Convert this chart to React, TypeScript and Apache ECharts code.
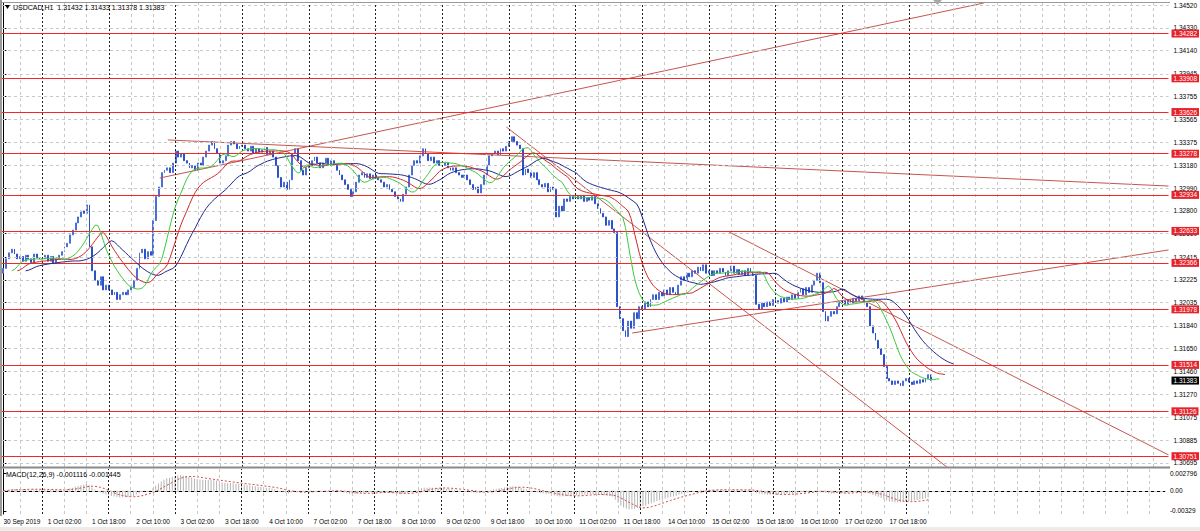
import { useEffect, useRef } from 'react';
import * as echarts from 'echarts';

// ---- data (hourly closes, H1 bars) ----
const dayNames = ['30 Sep', '1 Oct', '2 Oct', '3 Oct', '4 Oct', '7 Oct', '8 Oct', '9 Oct', '10 Oct', '11 Oct', '14 Oct', '15 Oct', '16 Oct', '17 Oct', '18 Oct'];
const firstHour = 10;
const firstOpen = 1.3228;

const d30Sep = [1.3232, 1.3240, 1.3245, 1.3248, 1.3244, 1.3240, 1.3242, 1.3238, 1.3243, 1.3240, 1.3237, 1.3244, 1.3241, 1.3240];
const d01Oct = [1.3240, 1.3243, 1.3238, 1.3242, 1.3236, 1.3240, 1.3243, 1.3246, 1.3250, 1.3253, 1.3260, 1.3264, 1.3270, 1.3275, 1.3280, 1.3278, 1.3285, 1.3250, 1.3230, 1.3222, 1.3218, 1.3225, 1.3214, 1.3218];
const d02Oct = [1.3214, 1.3210, 1.3212, 1.3206, 1.3210, 1.3212, 1.3210, 1.3214, 1.3216, 1.3222, 1.3232, 1.3245, 1.3248, 1.3240, 1.3246, 1.3243, 1.3272, 1.3292, 1.3300, 1.3312, 1.3314, 1.3316, 1.3312, 1.3320];
const d03Oct = [1.3330, 1.3325, 1.3328, 1.3322, 1.3320, 1.3316, 1.3318, 1.3314, 1.3320, 1.3318, 1.3325, 1.3330, 1.3335, 1.3338, 1.3332, 1.3328, 1.3320, 1.3322, 1.3326, 1.3335, 1.3338, 1.3336, 1.3332, 1.3334];
const d04Oct = [1.3335, 1.3332, 1.3330, 1.3334, 1.3328, 1.3332, 1.3329, 1.3331, 1.3333, 1.3327, 1.3330, 1.3325, 1.3318, 1.3308, 1.3300, 1.3304, 1.3298, 1.3306, 1.3328, 1.3332, 1.3322, 1.3314, 1.3310, 1.3316];
const d07Oct = [1.3318, 1.3322, 1.3325, 1.3320, 1.3316, 1.3320, 1.3324, 1.3318, 1.3322, 1.3318, 1.3314, 1.3310, 1.3306, 1.3302, 1.3298, 1.3292, 1.3296, 1.3304, 1.3310, 1.3312, 1.3308, 1.3311, 1.3307, 1.3310];
const d08Oct = [1.3308, 1.3306, 1.3304, 1.3300, 1.3302, 1.3298, 1.3296, 1.3292, 1.3290, 1.3288, 1.3294, 1.3300, 1.3310, 1.3318, 1.3322, 1.3320, 1.3326, 1.3332, 1.3328, 1.3322, 1.3325, 1.3320, 1.3322, 1.3318];
const d09Oct = [1.3318, 1.3320, 1.3316, 1.3314, 1.3316, 1.3312, 1.3310, 1.3308, 1.3310, 1.3306, 1.3302, 1.3298, 1.3300, 1.3295, 1.3302, 1.3310, 1.3318, 1.3326, 1.3328, 1.3330, 1.3327, 1.3332, 1.3330, 1.3334];
const d10Oct = [1.3338, 1.3342, 1.3338, 1.3335, 1.3332, 1.3310, 1.3315, 1.3312, 1.3308, 1.3312, 1.3306, 1.3302, 1.3300, 1.3303, 1.3296, 1.3300, 1.3298, 1.3275, 1.3284, 1.3280, 1.3290, 1.3288, 1.3292, 1.3290];
const d11Oct = [1.3292, 1.3290, 1.3293, 1.3288, 1.3291, 1.3289, 1.3292, 1.3286, 1.3282, 1.3278, 1.3275, 1.3268, 1.3272, 1.3265, 1.3262, 1.3200, 1.3190, 1.3180, 1.3175, 1.3188, 1.3182, 1.3195, 1.3190, 1.3200];
const d14Oct = [1.3198, 1.3204, 1.3200, 1.3206, 1.3210, 1.3206, 1.3212, 1.3209, 1.3214, 1.3210, 1.3216, 1.3212, 1.3210, 1.3218, 1.3225, 1.3222, 1.3228, 1.3225, 1.3230, 1.3228, 1.3233, 1.3230, 1.3235, 1.3228];
const d15Oct = [1.3230, 1.3226, 1.3230, 1.3228, 1.3232, 1.3229, 1.3226, 1.3230, 1.3234, 1.3228, 1.3231, 1.3227, 1.3230, 1.3226, 1.3232, 1.3229, 1.3226, 1.3202, 1.3198, 1.3203, 1.3200, 1.3204, 1.3201, 1.3206];
const d16Oct = [1.3205, 1.3203, 1.3207, 1.3204, 1.3208, 1.3206, 1.3210, 1.3207, 1.3212, 1.3215, 1.3210, 1.3216, 1.3212, 1.3218, 1.3222, 1.3228, 1.3220, 1.3196, 1.3188, 1.3192, 1.3196, 1.3194, 1.3200, 1.3204];
const d17Oct = [1.3205, 1.3202, 1.3206, 1.3203, 1.3207, 1.3205, 1.3209, 1.3206, 1.3204, 1.3200, 1.3184, 1.3178, 1.3172, 1.3165, 1.3160, 1.3150, 1.3140, 1.3138, 1.3135, 1.3138, 1.3136, 1.3134, 1.3138, 1.3140];
const d18Oct = [1.3137, 1.3135, 1.3138, 1.3136, 1.3139, 1.3137, 1.3140, 1.31432, 1.31383];

const dayCloses = [d30Sep, d01Oct, d02Oct, d03Oct, d04Oct, d07Oct, d08Oct, d09Oct, d10Oct, d11Oct, d14Oct, d15Oct, d16Oct, d17Oct, d18Oct];

const priceTicks = [1.34520, 1.34330, 1.34140, 1.33945, 1.33755, 1.33565, 1.33375, 1.33180, 1.32990, 1.32800, 1.32610, 1.32415, 1.32225, 1.32035, 1.31840, 1.31650, 1.31460, 1.31270, 1.31075, 1.30885, 1.30695];
const levels = [1.34282, 1.33908, 1.33626, 1.33278, 1.32934, 1.32633, 1.32366, 1.31978, 1.31514, 1.31126, 1.30751];
const lastPrice = 1.31383;
const macdTicks = [0.002796, 0, -0.00329];
const macdTickText = ['0.002796', '0.00', '-0.00329'];

// trend lines: [bar index, price] end points
const trendLines = [
  [[56.3, 1.33075], [353.0, 1.34537]],
  [[59.2, 1.33393], [419.5, 1.33008]],
  [[181.1, 1.33501], [339.7, 1.30661]],
  [[261.3, 1.32624], [419.5, 1.30762]],
  [[226.4, 1.31780], [419.5, 1.32474]],
];

const titleText = 'USDCAD,H1  1.31432 1.31433 1.31378 1.31383';
const macdText = 'MACD(12,26,9) -0.001116 -0.001445';

// ---- derived ----
const N_SLOTS = 420;
const closes: number[] = dayCloses.flat();
const categories: string[] = [];
dayCloses.forEach((arr, d) => arr.forEach((_, h) => {
  const hour = d === 0 ? firstHour + h : h;
  categories.push(`${dayNames[d]} ${String(hour).padStart(2, '0')}:00`);
}));
while (categories.length < N_SLOTS) categories.push('');

const opens = closes.map((c, i) => (i === 0 ? firstOpen : closes[i - 1]));
const candles = closes.map((c, i) => [opens[i], c, Math.min(opens[i], c), Math.max(opens[i], c)]);
const median = closes.map((c, i) => (opens[i] + c) / 2);

function smma(src: number[], n: number) {
  const out: number[] = [];
  let v = src[0];
  src.forEach((p, i) => { v = i === 0 ? p : (v * (n - 1) + p) / n; out.push(v); });
  return out;
}
function ema(src: number[], n: number) {
  const k = 2 / (n + 1);
  const out: number[] = [];
  let v = src[0];
  src.forEach((p, i) => { v = i === 0 ? p : p * k + v * (1 - k); out.push(v); });
  return out;
}
const jaw = smma(median, 13).map((v, i) => [i + 8, v]);
const teeth = smma(median, 8).map((v, i) => [i + 5, v]);
const lips = smma(median, 5).map((v, i) => [i + 3, v]);

const e12 = ema(closes, 12);
const e26 = ema(closes, 26);
const macdMain = closes.map((_, i) => e12[i] - e26[i]);
const macdSignal = macdMain.map((_, i) => {
  const from = Math.max(0, i - 8);
  const s = macdMain.slice(from, i + 1);
  return s.reduce((a, b) => a + b, 0) / s.length;
});

const lightX: number[] = [];
for (let i = 6; i < N_SLOTS; i += 8) if ((i - 14) % 24 !== 0 || i > 326) lightX.push(i);
const darkX: number[] = [];
for (let i = 14; i <= 326; i += 24) darkX.push(i);

const FONT = 'Liberation Sans';
const RED = '#e8222a';
const LEVEL_STYLE = { color: '#f02828', type: 'solid', width: 1, opacity: 1 };

export default function App() {
  const ref = useRef<HTMLDivElement>(null);
  useEffect(() => {
    if (!ref.current) return;
    const chart = echarts.init(ref.current, null, { renderer: 'svg' });
    const vLines = (
      [
        ...lightX.map((x) => ({ xAxis: x, lineStyle: { color: '#c8c8c8', type: [3, 3], width: 1 } })),
        ...darkX.map((x) => ({ xAxis: x, lineStyle: { color: '#222', type: [2, 2], width: 1 } })),
      ]
    );
    const option: any = {
      animation: false,
      backgroundColor: '#ffffff',
      textStyle: { fontFamily: FONT },
      grid: [
        { left: 2, right: 30, top: 3, height: 464 },
        { left: 2, right: 30, top: 469, height: 45 },
      ],
      xAxis: [
        { type: 'category', gridIndex: 0, data: categories, show: false, boundaryGap: true },
        { type: 'value', gridIndex: 0, min: -0.5, max: N_SLOTS - 0.5, show: false },
        {
          type: 'category', gridIndex: 1, data: categories, boundaryGap: true,
          axisLine: { lineStyle: { color: '#000', width: 1 } },
          axisTick: { show: false },
          splitLine: { show: false },
          axisLabel: {
            interval: (i: number) => i % 16 === 0 && i < closes.length,
            formatter: (v: string, i: number) => (i === 0 ? '30 Sep 2019' : v),
            align: 'left', fontSize: 6.5, color: '#000', margin: 4, fontFamily: FONT,
          },
        },
        { type: 'value', gridIndex: 1, min: -0.5, max: N_SLOTS - 0.5, show: false },
      ],
      yAxis: [
        {
          type: 'value', gridIndex: 0, position: 'right', min: 1.30661, max: 1.34537, scale: true,
          axisLine: { show: true, lineStyle: { color: '#000' } },
          axisTick: { show: true, customValues: priceTicks, length: 3, lineStyle: { color: '#000' } },
          axisLabel: { customValues: priceTicks, formatter: (v: number) => v.toFixed(5), fontSize: 6.5, color: '#000', margin: 5, fontFamily: FONT },
          splitLine: { show: false },
        },
        {
          type: 'value', gridIndex: 1, position: 'right', min: -0.0038, max: 0.00356,
          axisLine: { show: true, lineStyle: { color: '#000' } },
          axisTick: { show: true, customValues: macdTicks, length: 3, lineStyle: { color: '#000' } },
          axisLabel: {
            customValues: macdTicks,
            formatter: (v: number) => {
              let best = 0;
              macdTicks.forEach((t, k) => { if (Math.abs(t - v) < Math.abs(macdTicks[best] - v)) best = k; });
              return macdTickText[best];
            },
            fontSize: 6.5, color: '#000', margin: 5, fontFamily: FONT,
          },
          splitLine: { show: false },
        },
      ],
      series: [
        // grid lines main
        {
          type: 'line', xAxisIndex: 1, yAxisIndex: 0, data: [], z: 1, silent: true,
          markLine: {
            silent: true, symbol: ['none', 'none'], label: { show: false }, animation: false, precision: 6,
            data: [
              ...priceTicks.map((p) => ({ yAxis: p, lineStyle: { color: '#c8c8c8', type: [3, 3], width: 1 } })),
              ...vLines,
            ],
          },
        },
        // grid lines macd
        {
          type: 'line', xAxisIndex: 3, yAxisIndex: 1, data: [], z: 1, silent: true,
          markLine: {
            silent: true, symbol: ['none', 'none'], label: { show: false }, animation: false, precision: 6,
            data: [
              { yAxis: 0, lineStyle: { color: '#c8c8c8', type: [3, 3], width: 1 } },
              ...vLines,
            ],
          },
        },
        {
          type: 'candlestick', xAxisIndex: 0, yAxisIndex: 0, data: candles, barMaxWidth: 2, z: 3,
          itemStyle: { color: '#6f8fe0', color0: '#2d52c8', borderColor: '#4a6fd6', borderColor0: '#2d52c8', borderWidth: 1 },
        },
        ...trendLines.map((pts) => ({
          type: 'line', xAxisIndex: 1, yAxisIndex: 0, data: pts, symbol: 'none', z: 4, silent: true,
          lineStyle: { color: '#c5554f', width: 1 },
        })),
        { type: 'line', xAxisIndex: 1, yAxisIndex: 0, data: jaw, symbol: 'none', z: 5, lineStyle: { color: '#1f2a8c', width: 1 } },
        { type: 'line', xAxisIndex: 1, yAxisIndex: 0, data: teeth, symbol: 'none', z: 5, lineStyle: { color: '#cc2a2a', width: 1 } },
        { type: 'line', xAxisIndex: 1, yAxisIndex: 0, data: lips, symbol: 'none', z: 5, lineStyle: { color: '#3cc83c', width: 1 } },
        // horizontal levels
        {
          type: 'line', xAxisIndex: 1, yAxisIndex: 0, data: [], z: 6, silent: true, color: '#f02828',
          markLine: {
            silent: true, symbol: ['none', 'none'], animation: false, precision: 6,
            lineStyle: LEVEL_STYLE,
            label: {
              show: true, position: 'end', distance: 3, formatter: (p: any) => Number(p.value).toFixed(5),
              backgroundColor: RED, color: '#fff', padding: [1, 2, 0, 2], fontSize: 6.5, fontFamily: FONT,
            },
            data: [
              ...levels.map((v) => ({ yAxis: v, lineStyle: LEVEL_STYLE })),
              {
                yAxis: lastPrice, lineStyle: { color: 'rgba(0,0,0,0)', width: 0 },
                label: { backgroundColor: '#000', color: '#fff' },
              },
            ],
          },
        },
        {
          type: 'bar', xAxisIndex: 2, yAxisIndex: 1, data: macdMain, barWidth: 1, z: 3,
          itemStyle: { color: '#b4b4b4' },
        },
        {
          type: 'line', xAxisIndex: 2, yAxisIndex: 1, data: macdSignal, symbol: 'none', z: 4,
          lineStyle: { color: '#d04848', width: 1, type: [2, 2] },
        },
      ],
      graphic: [
        { type: 'rect', shape: { x: 0, y: 0, width: 2, height: 516 }, style: { fill: '#9a9a9a' }, z: 10 },
        { type: 'line', shape: { x1: 0, y1: 2.5, x2: 1170, y2: 2.5 }, style: { stroke: '#9a9a9a', lineWidth: 1 }, z: 10 },
        { type: 'rect', shape: { x: 0, y: 466.5, width: 1170, height: 2 }, style: { fill: '#8a8a8a' }, z: 10 },
        { type: 'rect', shape: { x: 0, y: 527, width: 1200, height: 4 }, style: { fill: '#ececec' }, z: 10 },
        { type: 'polygon', shape: { points: [[933, 0], [942, 0], [937.5, 5]] }, style: { fill: '#a8a8a8' }, z: 10 },
        { type: 'polygon', shape: { points: [[5, 5], [10, 5], [7.5, 9]] }, style: { fill: '#000' }, z: 10 },
        { type: 'text', x: 13, y: 3.5, style: { text: titleText, fontSize: 7, fontFamily: FONT, fill: '#000' }, z: 10 },
        { type: 'text', x: 6, y: 470.5, style: { text: macdText, fontSize: 7, fontFamily: FONT, fill: '#000' }, z: 10 },
      ],
    };
    chart.setOption(option);
    return () => chart.dispose();
  }, []);
  return <div ref={ref} style={{ position: 'fixed', left: 0, top: 0, width: 1200, height: 531 }} />;
}
